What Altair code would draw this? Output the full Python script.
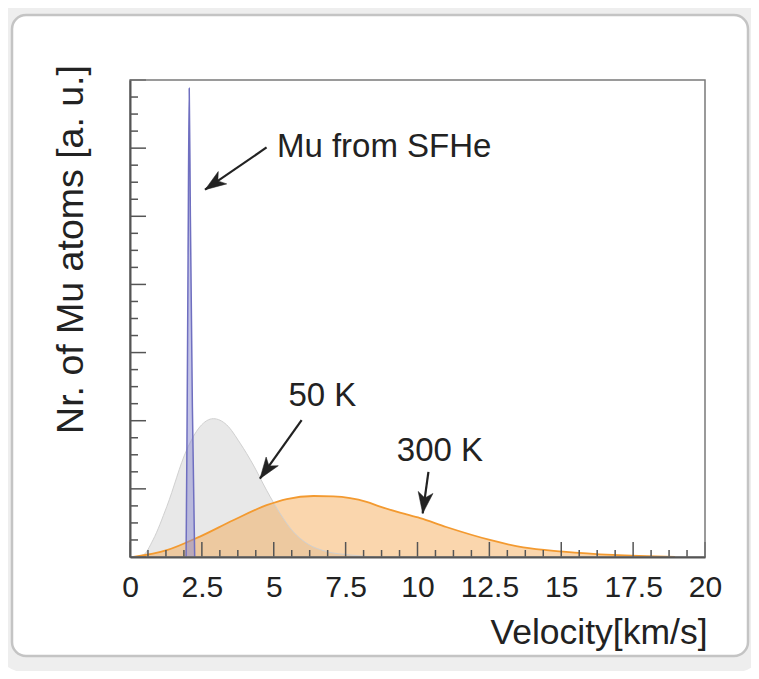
import math
import altair as alt
import pandas as pd

FONT = "Liberation Sans"
TXT = "#222222"

# ---- data ----
gray_x = [0.10, 0.46, 0.80, 1.28, 1.97, 2.43, 2.90, 3.36, 3.83, 4.29, 4.75, 5.22, 5.68, 6.15, 6.84, 7.65, 8.50]
gray_y = [0.00, 0.03, 0.25, 0.74, 1.57, 1.91, 2.03, 1.94, 1.67, 1.35, 0.98, 0.64, 0.37, 0.20, 0.08, 0.03, 0.00]

orange_x = [0.12, 1.28, 2.43, 3.59, 4.75, 5.45, 6.38, 7.07, 8.23, 8.70, 9.39, 10.09, 11.00, 12.52, 13.68, 15.07, 16.80, 18.96]
orange_y = [0.00, 0.10, 0.30, 0.54, 0.76, 0.85, 0.895, 0.89, 0.81, 0.74, 0.65, 0.57, 0.44, 0.25, 0.14, 0.08, 0.03, 0.00]

blue_x = [1.95, 1.98, 2.02, 2.06, 2.10, 2.17, 2.25]
blue_y = [0.00, 1.60, 4.40, 6.88, 5.00, 2.20, 0.00]

x_labels = [0, 2.5, 5, 7.5, 10, 12.5, 15, 17.5, 20]
x_minor_step = 0.625
y_major = [0, 1, 2, 3, 4, 5, 6, 7]
y_minor_step = 0.25

ann_text = ["Mu from SFHe", "50 K", "300 K"]
ann_x = [5.11, 5.51, 9.28]
ann_y = [5.87, 2.21, 1.41]

arrow_x = [4.75, 5.97, 10.38]
arrow_y = [6.01, 2.01, 1.25]
arrow_x2 = [2.61, 4.52, 10.18]
arrow_y2 = [5.39, 1.15, 0.64]

# ---- layout ----
W, H = 575, 477
XMAX, YMAX = 20, 7
sx, sy = W / XMAX, H / YMAX

xmin_ticks = [i * x_minor_step for i in range(int(XMAX / x_minor_step) + 1) if i % 4]
ymin_ticks = [i * y_minor_step for i in range(int(YMAX / y_minor_step) + 1) if i % 4]

xs = alt.Scale(domain=[0, XMAX], nice=False, zero=False)
ys = alt.Scale(domain=[0, YMAX], nice=False, zero=False)

x_axis = alt.Axis(
    values=x_labels, format=".1~f", ticks=False, grid=False,
    domainColor="#555555", domainWidth=2,
    labelFont=FONT, labelFontSize=30, labelColor=TXT, labelFlush=False,
    labelBaseline="alphabetic", labelPadding=39,
    title="Velocity[km/s]", titleFont=FONT, titleFontSize=35.5, titleFontWeight="normal",
    titleColor=TXT, titleAnchor="end", titleAlign="right", titleX=W + 2, titleY=86,
    titleBaseline="alphabetic", zindex=1,
)
y_axis = alt.Axis(
    labels=False, ticks=False, grid=False,
    domainColor="#555555", domainWidth=2,
    title="Nr. of Mu atoms [a. u.]", titleFont=FONT, titleFontSize=37.5, titleFontWeight="normal",
    titleColor=TXT, titleAngle=270, titleAlign="center", titleBaseline="alphabetic",
    titleX=-48, titleY=169, zindex=1,
)


def X(f):
    return alt.X(f, type="quantitative", scale=xs, axis=x_axis)


def Y(f):
    return alt.Y(f, type="quantitative", scale=ys, axis=y_axis)


gray = pd.DataFrame({"x": gray_x, "y": gray_y})
orange = pd.DataFrame({"x": orange_x, "y": orange_y})
blue = pd.DataFrame({"x": blue_x, "y": blue_y})

angles = []
for a, b, c, d in zip(arrow_x, arrow_y, arrow_x2, arrow_y2):
    ang = math.degrees(math.atan2((c - a) * sx, (d - b) * sy)) % 360
    angles.append(ang)
arrows = pd.DataFrame({"x": arrow_x, "y": arrow_y, "x2": arrow_x2, "y2": arrow_y2, "ang": angles})
ann = pd.DataFrame({"x": ann_x, "y": ann_y, "t": ann_text})

one = pd.DataFrame({"a": [0]})

surround = alt.Chart(one).mark_rect(
    fill=None, stroke="#eeeeee", strokeWidth=16, cornerRadius=20
).encode(x=alt.value(-126), x2=alt.value(626), y=alt.value(-73), y2=alt.value(584))
paper = alt.Chart(one).mark_rect(
    fill=None, stroke="#c4c4c4", strokeWidth=2.5, cornerRadius=14
).encode(x=alt.value(-118), x2=alt.value(618), y=alt.value(-65), y2=alt.value(576))
frame = alt.Chart(one).mark_rect(
    fill=None, stroke="#7a7a7a", strokeWidth=1.5
).encode(x=alt.value(0), x2=alt.value(W), y=alt.value(0), y2=alt.value(H))

gray_area = alt.Chart(gray).mark_area(
    interpolate="monotone", color="#d2d2d2", opacity=0.5
).encode(x=X("x"), y=Y("y"))
gray_line = alt.Chart(gray).mark_line(
    interpolate="monotone", color="#d0d0d0", strokeWidth=1
).encode(x=X("x"), y=Y("y"))

orange_area = alt.Chart(orange).mark_area(
    interpolate="monotone", color="#f5a54a", opacity=0.45
).encode(x=X("x"), y=Y("y"))
orange_line = alt.Chart(orange).mark_line(
    interpolate="monotone", color="#f39a30", strokeWidth=1.8
).encode(x=X("x"), y=Y("y"))

blue_area = alt.Chart(blue).mark_area(
    interpolate="monotone", color="#8a8ad0", opacity=0.5
).encode(x=X("x"), y=Y("y"))
blue_line = alt.Chart(blue).mark_line(
    interpolate="monotone", color="#6f6fc0", strokeWidth=1.5
).encode(x=X("x"), y=Y("y"))

TICK = "#555555"
xmaj_r = alt.Chart(pd.DataFrame({"x": x_labels})).mark_rule(color=TICK, strokeWidth=1.5).encode(
    x=X("x"), y=alt.value(H), y2=alt.value(H - 15))
xmin_r = alt.Chart(pd.DataFrame({"x": xmin_ticks})).mark_rule(color=TICK, strokeWidth=1.5).encode(
    x=X("x"), y=alt.value(H), y2=alt.value(H - 7))
ymaj_r = alt.Chart(pd.DataFrame({"y": y_major})).mark_rule(color=TICK, strokeWidth=1.5).encode(
    y=Y("y"), x=alt.value(0), x2=alt.value(16))
ymin_r = alt.Chart(pd.DataFrame({"y": ymin_ticks})).mark_rule(color=TICK, strokeWidth=1.5).encode(
    y=Y("y"), x=alt.value(0), x2=alt.value(8))

arrow_lines = alt.Chart(arrows).mark_rule(color=TXT, strokeWidth=2.2).encode(
    x=X("x"), y=Y("y"), x2="x2:Q", y2="y2:Q")
arrow_heads = alt.Chart(arrows).mark_point(
    shape="M0,0 L0.6,1.7 L0,1.25 L-0.6,1.7 Z", filled=True, fill=TXT, stroke=TXT,
    strokeWidth=0.5, size=620, opacity=1
).encode(x=X("x2"), y=Y("y2"), angle=alt.Angle("ang:Q", scale=None))

labels = alt.Chart(ann).mark_text(
    font=FONT, fontSize=33, color=TXT, align="left", baseline="alphabetic"
).encode(x=X("x"), y=Y("y"), text="t:N")

chart = alt.layer(
    gray_area, surround, paper, orange_area, gray_line, orange_line, blue_area, blue_line,
    xmaj_r, xmin_r, ymaj_r, ymin_r, frame, arrow_lines, arrow_heads, labels
).properties(
    width=W, height=H,
    autosize=alt.AutoSizeParams(type="none"),
    padding={"left": 122, "top": 72, "right": 46, "bottom": 114},
).configure(background="white").configure_view(stroke=None)

chart.save("out.html", embed_options={"renderer": "svg", "actions": False})
